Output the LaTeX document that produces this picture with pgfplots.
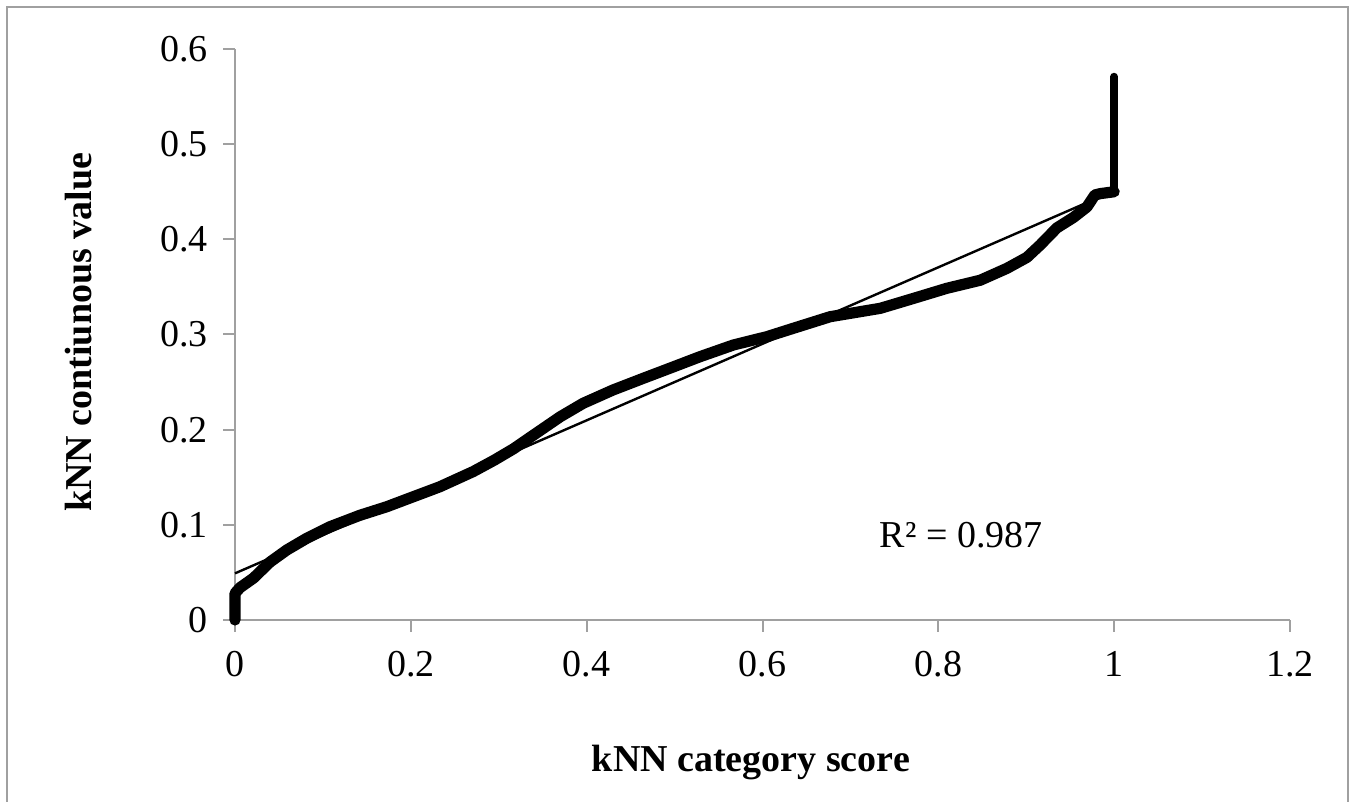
\documentclass[border=0pt]{standalone}
\usepackage{fontspec}
\setmainfont{Liberation Serif}
\usepackage{pgfplots}
\pgfplotsset{compat=1.18}
\definecolor{axgray}{HTML}{A0A0A0}
\begin{document}
\begin{tikzpicture}
\useasboundingbox (0,0) rectangle (677.5pt,401pt);
\draw[axgray, line width=1pt] (3.5pt,-2pt) -- (3.5pt,397.5pt) -- (674pt,397.5pt) -- (674pt,-2pt);
\begin{axis}[
  at={(117.5pt,91pt)}, anchor=south west,
  scale only axis, width=527.5pt, height=285.5pt,
  xmin=0, xmax=1.2, ymin=0, ymax=0.6,
  xtick={0,0.2,0.4,0.6,0.8,1,1.2},
  ytick={0,0.1,0.2,0.3,0.4,0.5,0.6},
  axis lines=left,
  axis line style={-, axgray, line width=1pt},
  tick align=outside,
  major tick length=6pt,
  tick style={axgray, line width=1pt},
  /pgf/number format/assume math mode=true,
  tick label style={font=\fontsize{19}{22}\selectfont, black},
  yticklabel style={xshift=-4pt},
  xticklabel style={yshift=-6pt},
  xlabel={kNN category score},
  ylabel={kNN contiunous value},
  label style={font=\fontsize{19}{22}\selectfont\bfseries},
  xlabel style={at={(axis description cs:0.489,-0.250)}, anchor=center},
  ylabel style={at={(axis description cs:-0.148,0.504)}, anchor=center, rotate=0},
  clip=false,
]
\addplot[black, line width=5.6pt, line join=round, line cap=round] coordinates {
(0,0) (0,0.028) (0.0057,0.034) (0.021,0.044) (0.040,0.061) (0.059,0.0736)
(0.0815,0.0858) (0.108,0.098) (0.142,0.110) (0.1726,0.119) (0.203,0.1296)
(0.233,0.140) (0.271,0.156) (0.295,0.168) (0.317,0.180) (0.339,0.194)
(0.370,0.2136) (0.396,0.2277) (0.430,0.2417) (0.4645,0.254) (0.4987,0.266)
(0.529,0.2767) (0.567,0.289) (0.605,0.2977) (0.635,0.3065) (0.677,0.3187)
(0.734,0.3275) (0.772,0.338) (0.8095,0.3485) (0.8476,0.357) (0.878,0.3695)
(0.9007,0.381) (0.9158,0.394) (0.9348,0.412) (0.9537,0.423) (0.969,0.434)
(0.978,0.4466) (0.984,0.448) (1.0,0.450)
};
\addplot[black, line width=3.8pt, line cap=round] coordinates {(1,0.45) (1,0.571)};
\addplot[black, line width=1.2pt] coordinates {(0,0.049) (1,0.451)};
\node[font=\fontsize{19}{22}\selectfont] at (axis cs:0.826,0.0893) {R² = 0.987};
\end{axis}
\end{tikzpicture}
\end{document}
